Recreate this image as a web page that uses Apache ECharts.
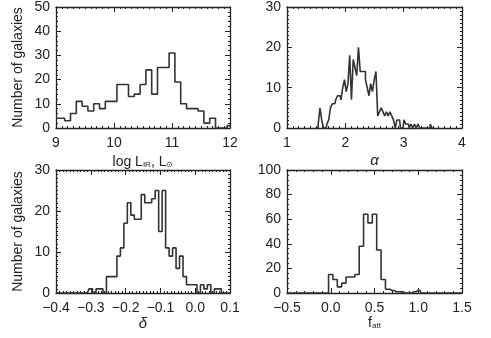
<!DOCTYPE html>
<html lang="en">
<head>
<meta charset="UTF-8">
<title>Galaxy histograms</title>
<script src="https://cdn.jsdelivr.net/npm/echarts@6/dist/echarts.min.js"></script>
<style>
  html, body { margin: 0; padding: 0; background: #fff; }
  #main { width: 491px; height: 338px; }
</style>
</head>
<body>
<div id="main"></div>
<script type="text/javascript">
// bin layout: first bin centre, bin width
var lirStart = 9.0, lirBin = 0.1;
var lirCounts = [4, 4, 3, 6, 11, 9, 7, 10, 8, 11, 11, 18, 18, 13, 14, 18, 24, 14, 25, 25,
                 31, 19, 10, 8, 8, 7, 2, 4, 0, 0, 1];

var alphaStart = 1.49, alphaBin = 0.03;
var alphaCounts = [0, 0, 1, 5, 2, 0, 0, 1, 2, 5, 6, 6, 7, 8, 8, 7, 10, 12, 9, 11,
                   18, 7, 17, 15, 13, 20, 14, 14, 14, 12, 10, 8, 11, 9, 12, 14, 3, 4, 5, 4,
                   3, 4, 3, 4, 3, 2, 0, 2, 2, 0, 0, 2, 1, 1, 0, 1, 0, 1, 0, 1,
                   0, 0, 0, 0, 0, 0, 1, 0];

var deltaStart = -0.40, deltaBin = 0.01;
var deltaCounts = [0, 0, 0, 0, 0, 0, 0, 0, 0, 0, 1, 0, 1, 1, 0, 4, 4, 4, 9, 11,
                   17, 22, 19, 18, 18, 24, 22, 22, 23, 25, 15, 25, 11, 9, 11, 6, 9, 4, 2, 2,
                   2, 0, 2, 1, 2, 0, 1, 1, 0, 0, 0];

var fattStart = -0.5, fattBin = 0.05;
var fattCounts = [0, 0, 0, 0, 0, 0, 0, 0, 0, 0, 15, 11, 5, 8, 13, 13, 15, 38, 64, 57,
                  64, 35, 11, 3, 2, 1, 1, 0, 0, 1, 2, 0, 0, 0, 0, 0, 0, 0, 0, 0, 0];

var ink = '#222';
var font = 'Liberation Sans';

function toPoints(start, width, counts) {
    return counts.map(function (c, i) {
        return [+(start + i * width).toFixed(4), c];
    });
}

function fmtMinus(digits) {
    return function (v) {
        var s = digits === 0 ? String(Math.round(v)) : v.toFixed(digits);
        return s.replace('-', '\u2212');
    };
}

var grids = [
    {left: 56, top: 5, width: 174, height: 123},
    {left: 287, top: 5, width: 175, height: 123},
    {left: 56, top: 170, width: 174, height: 123},
    {left: 287, top: 170, width: 175, height: 123}
];

// per-panel axis setup
var panels = [
    {x: [9, 12, 1, 10, 0], y: [0, 50, 10, 5], name: 'log L{s|IR}, L{s|\u2299}', nameGap: 27, yName: true, data: toPoints(lirStart, lirBin, lirCounts)},
    {x: [1, 4, 1, 10, 0], y: [0, 30, 10, 10], name: '{i|\u03b1}', nameGap: 25, yName: false, data: toPoints(alphaStart, alphaBin, alphaCounts)},
    {x: [-0.4, 0.1, 0.1, 10, 1], y: [0, 30, 10, 10], name: '{i|\u03b4}', nameGap: 18, yName: true, data: toPoints(deltaStart, deltaBin, deltaCounts)},
    {x: [-0.5, 1.5, 0.5, 5, 1], y: [0, 100, 20, 5], name: 'f{s|att}', nameGap: 18, yName: false, data: toPoints(fattStart, fattBin, fattCounts)}
];

var xAxes = [], yAxes = [], series = [];
var lineStyle = {color: ink, width: 1.3};

panels.forEach(function (p, i) {
    var common = {
        type: 'value',
        gridIndex: i,
        axisLine: {show: true, onZero: false, lineStyle: lineStyle},
        axisTick: {show: true, inside: true, length: 5, lineStyle: {color: ink, width: 1}},
        splitLine: {show: false}
    };
    // bottom
    xAxes.push(Object.assign({}, common, {
        position: 'bottom',
        min: p.x[0], max: p.x[1], interval: p.x[2],
        minorTick: {show: true, splitNumber: p.x[3], length: 2, lineStyle: {color: ink, width: 1}},
        axisLabel: {color: ink, fontFamily: font, fontSize: 14, margin: 8, formatter: fmtMinus(p.x[4])},
        name: p.name,
        nameLocation: 'middle',
        nameGap: p.nameGap,
        nameTextStyle: {
            color: ink, fontFamily: font, fontSize: 14,
            rich: {
                s: {fontSize: 8, verticalAlign: 'bottom', color: ink, fontFamily: font, padding: [6, 0, 0, 0]},
                i: {fontSize: 15, fontStyle: 'italic', color: ink, fontFamily: font}
            }
        }
    }));
    // top
    xAxes.push(Object.assign({}, common, {
        position: 'top',
        min: p.x[0], max: p.x[1], interval: p.x[2],
        minorTick: {show: true, splitNumber: p.x[3], length: 2, lineStyle: {color: ink, width: 1}},
        axisLabel: {show: false}
    }));
    // left
    yAxes.push(Object.assign({}, common, {
        position: 'left',
        min: p.y[0], max: p.y[1], interval: p.y[2],
        minorTick: {show: true, splitNumber: p.y[3], length: 2, lineStyle: {color: ink, width: 1}},
        axisLabel: {color: ink, fontFamily: font, fontSize: 14, margin: 6},
        name: p.yName ? 'Number of galaxies' : '',
        nameLocation: 'middle',
        nameGap: 31,
        nameTextStyle: {color: ink, fontFamily: font, fontSize: 14}
    }));
    // right
    yAxes.push(Object.assign({}, common, {
        position: 'right',
        min: p.y[0], max: p.y[1], interval: p.y[2],
        minorTick: {show: true, splitNumber: p.y[3], length: 2, lineStyle: {color: ink, width: 1}},
        axisLabel: {show: false}
    }));

    series.push({
        type: 'line',
        step: 'middle',
        xAxisIndex: i * 2,
        yAxisIndex: i * 2,
        symbol: 'none',
        animation: false,
        lineStyle: {color: '#333', width: 1.6},
        data: p.data
    });
});

var myChart = echarts.init(document.getElementById('main'));
myChart.setOption({
    animation: false,
    grid: grids,
    xAxis: xAxes,
    yAxis: yAxes,
    series: series
});
</script>
</body>
</html>
